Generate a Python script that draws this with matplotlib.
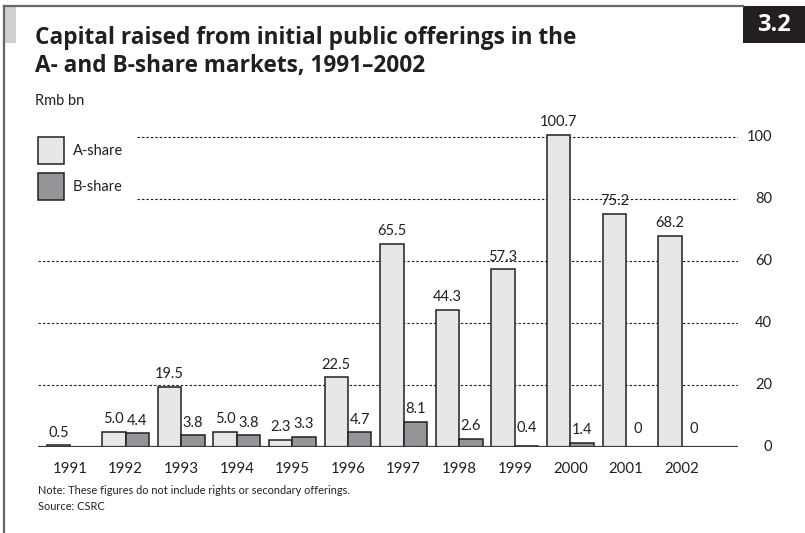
import matplotlib.pyplot as plt
import matplotlib.transforms as mtransforms
from matplotlib.patches import Rectangle

years = ["1991", "1992", "1993", "1994", "1995", "1996",
         "1997", "1998", "1999", "2000", "2001", "2002"]
a_share = [0.5, 5.0, 19.5, 5.0, 2.3, 22.5, 65.5, 44.3, 57.3, 100.7, 75.2, 68.2]
b_share = [0.0, 4.4, 3.8, 3.8, 3.3, 4.7, 8.1, 2.6, 0.4, 1.4, 0, 0]
b_labels = ["", "4.4", "3.8", "3.8", "3.3", "4.7", "8.1", "2.6", "0.4", "1.4", "0", "0"]
grid_vals = [0, 20, 40, 60, 80, 100]

W, H = 805, 533
plt.rcParams['font.family'] = ['Lato', 'DejaVu Sans']
fig = plt.figure(figsize=(W / 100, H / 100), dpi=100)


def px(x, y):
    return x / W, 1 - y / H


# plot area in pixels
x0, x1 = 38, 738
y_base, unit = 447, 3.1
ytop = 105
ax = fig.add_axes([x0 / W, 1 - y_base / H, (x1 - x0) / W, ytop * unit / H])
ax.set_ylim(0, ytop)
step = 55.6
ax.set_xlim((x0 - 70) / step, (x1 - 70) / step)
for s in ax.spines.values():
    s.set_visible(False)
ax.set_xticks([])
ax.set_yticks([])

edge = "#231f20"
w = 0.42
xs = list(range(len(years)))
ba = ax.bar([i - w / 2 for i in xs], a_share, width=w, color="#e6e7e8",
            edgecolor=edge, linewidth=1.1, zorder=3)
bb = ax.bar([i + w / 2 for i in xs], b_share, width=w, color="#939598",
            edgecolor=edge, linewidth=1.1, zorder=3)

for rect, v in zip(ba, a_share):
    ax.annotate(f"{v:.1f}", (rect.get_x() + rect.get_width() / 2, v),
                xytext=(0, 4), textcoords="offset points", ha="center",
                va="bottom", fontsize=10.5, color="#231f20", annotation_clip=False)
for rect, v, lab in zip(bb, b_share, b_labels):
    if lab:
        ax.annotate(lab, (rect.get_x() + rect.get_width() / 2, v),
                    xytext=(0, 4 if v > 0.5 else 8), textcoords="offset points",
                    ha="center", va="bottom", fontsize=10.5, color="#231f20")

# gridlines: the top two stop short of the key
for g in grid_vals[1:]:
    start = (137 - x0) / (x1 - x0) if g >= 80 else 0
    ax.axhline(g, xmin=start, xmax=1, color="#231f20", lw=0.8,
               linestyle=(0, (2.2, 1.8)), zorder=1)
ax.axhline(0, color="#3a3a3a", lw=1.6, zorder=4)

lab_tr = mtransforms.blended_transform_factory(fig.transFigure, ax.transData)
for g in grid_vals:
    ax.text(772 / W, g, str(g), transform=lab_tr, ha="right", va="center",
            fontsize=10.5, color="#231f20")

for i, y in enumerate(years):
    ax.text(i, -7.0, y, ha="center", va="center", fontsize=10.8, color="#231f20")

# key
for ytop_px, col, name in [(137, "#e6e7e8", "A-share"), (173, "#939598", "B-share")]:
    fig.patches.append(Rectangle(px(38, ytop_px + 27), 26 / W, 27 / H,
                                 transform=fig.transFigure, facecolor=col,
                                 edgecolor=edge, linewidth=1.1))
    fig.text(*px(73, ytop_px + 14), name, ha="left", va="center",
             fontsize=10.5, color="#231f20")

# frame, side tab and chart number
fig.add_artist(plt.Line2D([4 / W, 743 / W], [1 - 6 / H] * 2, color="#666666",
                          lw=1.6, transform=fig.transFigure))
fig.add_artist(plt.Line2D([4 / W] * 2, [0, 1 - 6 / H], color="#666666",
                          lw=1.6, transform=fig.transFigure))
fig.patches.append(Rectangle(px(5, 43), 11 / W, 36 / H, transform=fig.transFigure,
                             facecolor="#cfd0d2", edgecolor="none"))
fig.patches.append(Rectangle(px(743, 43), 62 / W, 37 / H, transform=fig.transFigure,
                             facecolor="#231f20", edgecolor="none"))
fig.text(*px(774, 25), "3.2", ha="center", va="center", fontsize=17,
         fontweight="bold", color="white", family=["Open Sans", "DejaVu Sans"])

title_font = dict(ha="left", va="center", fontsize=16.3, fontweight="bold",
                  color="#231f20", family=["Open Sans", "DejaVu Sans"])
fig.text(*px(35, 38), "Capital raised from initial public offerings in the",
         **title_font)
fig.text(*px(35, 66), "A- and B-share markets, 1991\u20132002", **title_font)
fig.text(*px(35, 101), "Rmb bn", ha="left", va="center", fontsize=10.5,
         color="#231f20")
fig.text(*px(38, 490), "Note: These figures do not include rights or secondary offerings.",
         ha="left", va="center", fontsize=7.9, color="#231f20")
fig.text(*px(38, 506), "Source: CSRC", ha="left", va="center", fontsize=7.9,
         color="#231f20")

fig.savefig("out.png", dpi=100)
